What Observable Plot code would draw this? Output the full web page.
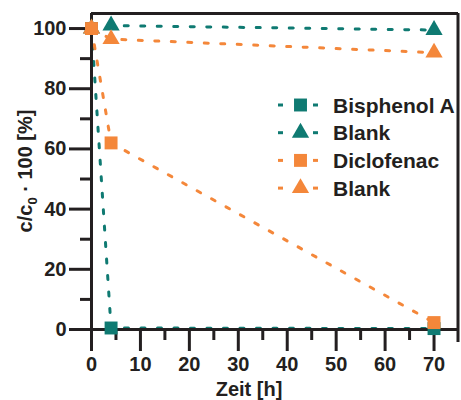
<!DOCTYPE html>
<html>
<head>
<meta charset="utf-8">
<script src="https://cdn.jsdelivr.net/npm/d3@7"></script>
<script src="https://cdn.jsdelivr.net/npm/@observablehq/plot@0.6"></script>
<style>
  html, body { margin: 0; padding: 0; background: #fff; }
  #chart { position: relative; width: 461px; height: 400px; overflow: hidden; }
</style>
</head>
<body>
<div id="chart"></div>
<script>
// ---- data ----
const time = [0, 4, 70];
const seriesNames = ["Bisphenol A", "Blank", "Diclofenac", "Blank"];
const bisphenolA = [100, 0.5, 0.3];
const blankBpa = [100, 101, 99.5];
const diclofenac = [100, 62, 2.3];
const blankDic = [100, 96.5, 92];
const xMajorTicks = [0, 10, 20, 30, 40, 50, 60, 70];
const xMinorTicks = [5, 15, 25, 35, 45, 55, 65];
const yMajorTicks = [0, 20, 40, 60, 80, 100];
const yMinorTicks = [10, 30, 50, 70, 90];
const xLabel = "Zeit [h]";

// ---- styles ----
const teal = "#0f7a72";
const orange = "#f4873a";
const ink = "#231f20";
const font = "'Liberation Sans', Arial, sans-serif";

const series = [
  {name: seriesNames[0], values: bisphenolA, color: teal, symbol: "square", r: 7.3},
  {name: seriesNames[1], values: blankBpa, color: teal, symbol: "triangle", r: 6.4},
  {name: seriesNames[2], values: diclofenac, color: orange, symbol: "square", r: 7.3},
  {name: seriesNames[3], values: blankDic, color: orange, symbol: "triangle", r: 6.4}
];
const drawOrder = [0, 1, 3, 2];
const rows = series.map(s => time.map((t, i) => ({t, v: s.values[i]})));

const dash = "4,12.5";
const marks = [];
// lines
for (const k of drawOrder) {
  marks.push(Plot.line(rows[k], {x: "t", y: "v", stroke: series[k].color, strokeWidth: 3, strokeDasharray: dash}));
}
// frame and axes lines
marks.push(Plot.ruleY([105], {x1: 0, x2: 75, stroke: ink, strokeWidth: 3}));
marks.push(Plot.ruleX([0], {y1: 0, y2: 105, stroke: ink, strokeWidth: 3}));
marks.push(Plot.ruleY([0], {x1: 0, x2: 75, stroke: ink, strokeWidth: 3}));
// ticks
marks.push(Plot.axisY(yMajorTicks, {tickSize: 22, tickPadding: 3, strokeWidth: 3, stroke: ink, fill: ink, fontSize: 20, fontWeight: "bold", label: null}));
marks.push(Plot.axisY(yMinorTicks, {tickSize: 11, strokeWidth: 3, stroke: ink, tickFormat: () => "", label: null}));
marks.push(Plot.axisX(xMajorTicks, {tickSize: 22, tickPadding: 5, strokeWidth: 3, stroke: ink, fill: ink, fontSize: 20, fontWeight: "bold", label: null}));
marks.push(Plot.axisX(xMinorTicks, {tickSize: 11, strokeWidth: 3, stroke: ink, tickFormat: () => "", label: null}));
// markers
for (const k of drawOrder) {
  marks.push(Plot.dot(rows[k], {x: "t", y: "v", symbol: () => series[k].symbol, fill: series[k].color, r: series[k].r}));
}

const svg = Plot.plot({
  width: 461,
  height: 400,
  marginLeft: 91,
  marginRight: 3,
  marginTop: 13,
  marginBottom: 71,
  style: {fontFamily: font, background: "#fff", color: ink, overflow: "visible"},
  x: {domain: [0, 75]},
  y: {domain: [0, 105]},
  symbol: {type: "identity"},
  marks
});
document.getElementById("chart").appendChild(svg);

// ---- axis titles & legend (added to the Plot svg) ----
const s = d3.select(svg);
s.append("text")
  .attr("x", 249).attr("y", 396)
  .attr("text-anchor", "middle")
  .attr("font-family", font).attr("font-size", 20).attr("font-weight", "bold")
  .attr("fill", ink)
  .text(xLabel);

const yl = s.append("text")
  .attr("transform", "translate(32,171) rotate(-90)")
  .attr("text-anchor", "middle")
  .attr("font-family", font).attr("font-size", 20).attr("font-weight", "bold")
  .attr("fill", ink);
yl.append("tspan").text("c/c");
yl.append("tspan").attr("font-size", 13).attr("dy", 5).text("0");
yl.append("tspan").attr("dy", -5).text(" \u00B7 100 [%]");

const lg = s.append("g");
series.forEach((ser, i) => {
  const cy = 105 + i * 27.7;
  lg.append("line").attr("x1", 278).attr("x2", 283).attr("y1", cy).attr("y2", cy)
    .attr("stroke", ser.color).attr("stroke-width", 3);
  lg.append("line").attr("x1", 313).attr("x2", 318).attr("y1", cy).attr("y2", cy)
    .attr("stroke", ser.color).attr("stroke-width", 3);
  const sym = ser.symbol === "square" ? d3.symbolSquare : d3.symbolTriangle;
  lg.append("path").attr("transform", `translate(300.5,${cy})`)
    .attr("d", d3.symbol(sym, Math.PI * ser.r * ser.r)())
    .attr("fill", ser.color);
  lg.append("text").attr("x", 333).attr("y", cy).attr("dy", "0.36em")
    .attr("text-anchor", "start")
    .attr("font-family", font).attr("font-size", 21).attr("font-weight", "bold")
    .attr("fill", ink).text(ser.name);
});
// right frame line drawn last, over the legend text
const x = svg.scale("x"), y = svg.scale("y");
s.append("line")
  .attr("x1", x.apply(75)).attr("x2", x.apply(75))
  .attr("y1", y.apply(105)).attr("y2", y.apply(-4.3))
  .attr("stroke", ink).attr("stroke-width", 3);
</script>
</body>
</html>
